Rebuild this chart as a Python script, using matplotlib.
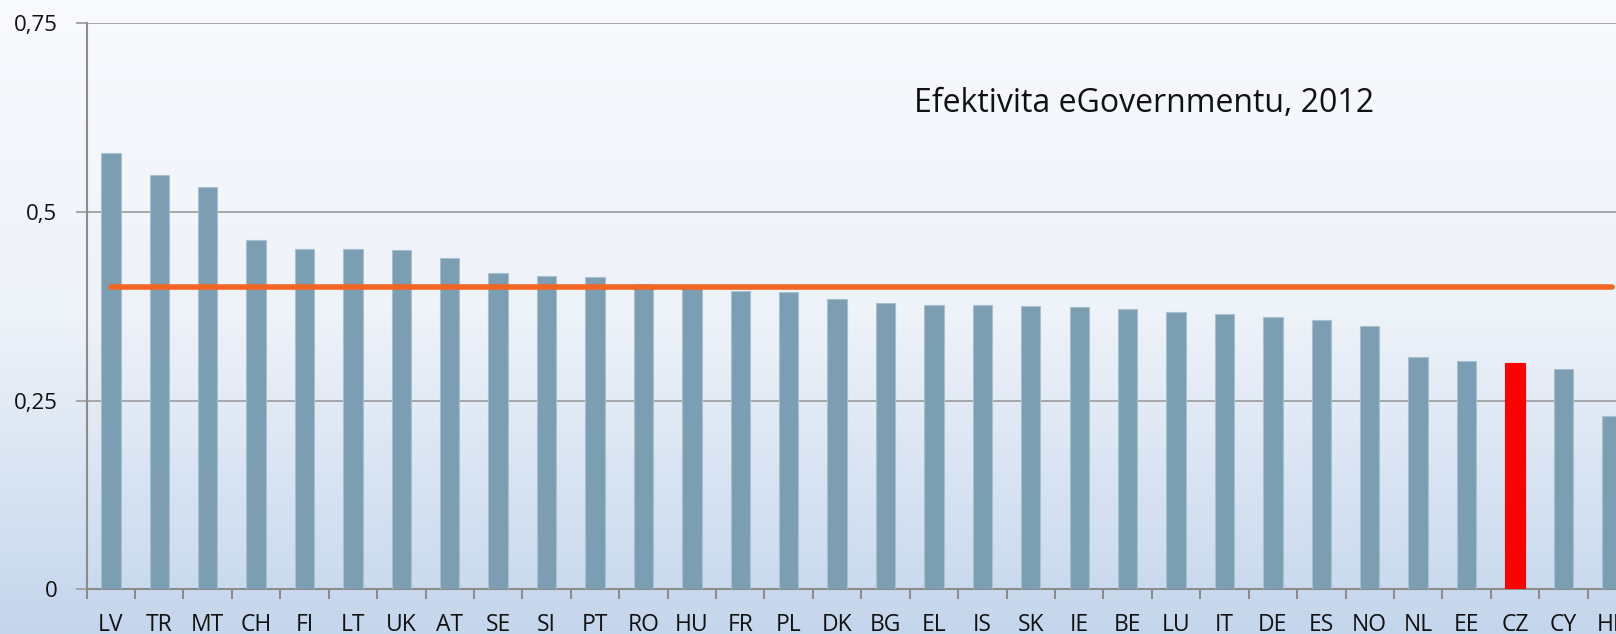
import numpy as np
import matplotlib
matplotlib.use("Agg")
import matplotlib.pyplot as plt
from matplotlib.colors import LinearSegmentedColormap

countries = ["LV", "TR", "MT", "CH", "FI", "LT", "UK", "AT", "SE", "SI", "PT", "RO",
             "HU", "FR", "PL", "DK", "BG", "EL", "IS", "SK", "IE", "BE", "LU", "IT",
             "DE", "ES", "NO", "NL", "EE", "CZ", "CY", "HR"]
values = [0.578, 0.548, 0.533, 0.462, 0.451, 0.450, 0.449, 0.439, 0.419, 0.415, 0.413, 0.404,
          0.400, 0.395, 0.393, 0.385, 0.379, 0.376, 0.376, 0.375, 0.374, 0.371, 0.367, 0.365,
          0.360, 0.356, 0.349, 0.308, 0.303, 0.300, 0.292, 0.229]
average = 0.4
highlight = "CZ"
yticks = [0, 0.25, 0.5, 0.75]
ytick_labels = ["0", "0,25", "0,5", "0,75"]
title = "Efektivita eGovernmentu, 2012"

plt.rcParams['font.family'] = ['Open Sans', 'DejaVu Sans']

fig = plt.figure(figsize=(16.16, 6.34), dpi=100)

# background gradient
bg = fig.add_axes([0, 0, 1, 1], zorder=-1)
cmap = LinearSegmentedColormap.from_list("bg", ["#F8FAFD", "#EEF2F9", "#C4D6EC"])
grad = np.linspace(0, 1, 256).reshape(-1, 1)
bg.imshow(grad, aspect="auto", cmap=cmap, extent=[0, 1, 0, 1], origin="upper")
bg.axis("off")

ax = fig.add_axes([0.0536, 0.0702, 0.9588, 0.894])
ax.set_facecolor("none")

x = np.arange(len(countries))
colors = ["#FF0000" if c == highlight else "#7B9EB2" for c in countries]
edges = ["#FF0000" if c == highlight else "#A9C0CE" for c in countries]
ax.bar(x, values, width=0.4, color=colors, edgecolor=edges, linewidth=0.8, zorder=3)
ax.plot(x, [average] * len(x), color="#F26522", lw=4, zorder=4, solid_capstyle="round")

ax.set_xlim(-0.5, len(countries) - 0.5)
ax.set_ylim(0, 0.75)
ax.set_yticks(yticks)
ax.set_yticklabels(ytick_labels)
ax.set_xticks(x)
ax.set_xticklabels(countries)
ax.set_xticks(np.arange(-0.5, len(countries), 1), minor=True)

ax.grid(axis="y", color="#A0A0A0", lw=1.3, zorder=1)
ax.set_axisbelow(True)
for s in ["top", "right"]:
    ax.spines[s].set_visible(False)
for s in ["left", "bottom"]:
    ax.spines[s].set_color("#8C8C8C")
    ax.spines[s].set_linewidth(1.5)

ax.tick_params(axis="y", length=8, width=1.3, color="#A0A0A0", labelsize=16, pad=13, labelcolor="#111111")
ax.tick_params(axis="x", which="major", length=0, labelsize=16.5, pad=17, labelcolor="#111111")
ax.tick_params(axis="x", which="minor", length=7, width=1.5, color="#8C8C8C")

ax.text(0.6825, 0.858, title, transform=ax.transAxes, ha="center", va="center",
        fontsize=23, color="#111111")

fig.savefig("out.png", dpi=100)
